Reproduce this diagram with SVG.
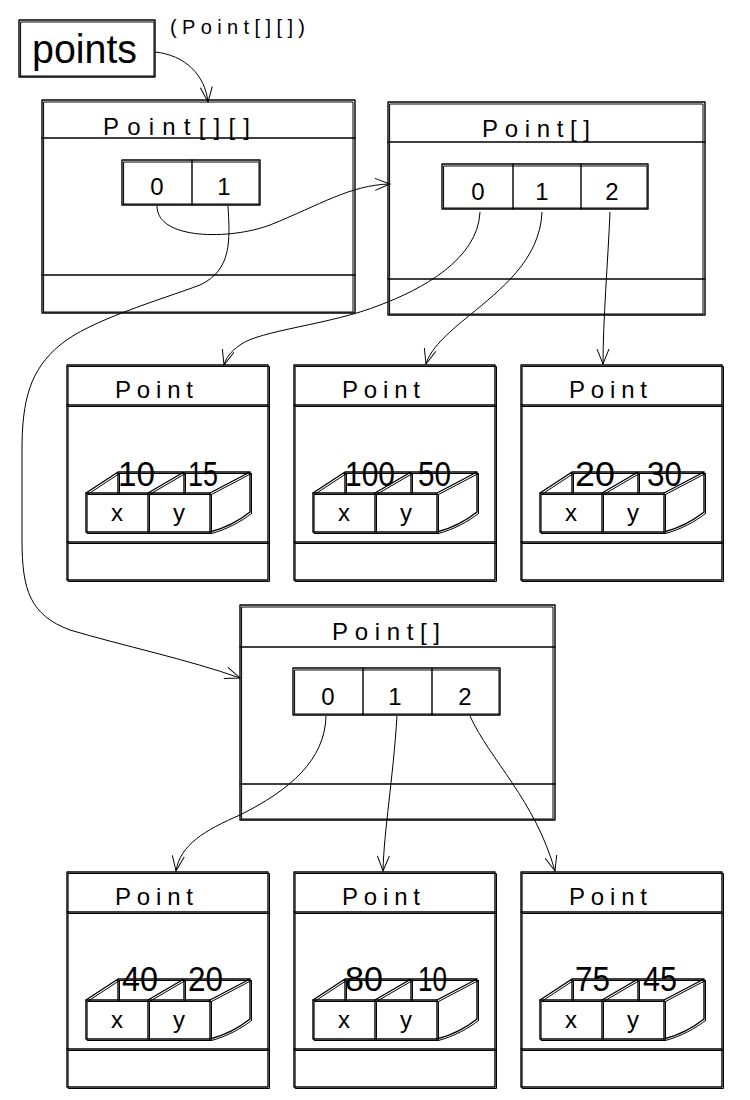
<svg xmlns="http://www.w3.org/2000/svg" xmlns:xlink="http://www.w3.org/1999/xlink" width="750" height="1100" viewBox="0 0 750 1100">
<style>
.s{fill:none;stroke:#000;stroke-width:1.4;stroke-linejoin:round;stroke-linecap:round}
.s2{fill:none;stroke:#000;stroke-width:1;stroke-linejoin:round;stroke-linecap:round}
.c{fill:none;stroke:#000;stroke-width:1}
.t{font-family:"Liberation Sans",Arial,sans-serif;fill:#000}
.title{font-size:24px}
.idx{font-size:24px;text-anchor:middle}
.num{font-size:35px}
.fld{font-size:24px;text-anchor:middle}
</style>
<defs>
<marker id="arr" markerUnits="userSpaceOnUse" markerWidth="20" markerHeight="20" viewBox="-16 -10 20 20" refX="0" refY="0" orient="auto" overflow="visible">
<path d="M-15,-6 L0,0 L-15,6" fill="none" stroke="#000" stroke-width="1"/>
</marker>
<g id="pshape">
<rect x="0" y="0" width="201" height="215"/>
<path d="M0,40 H201 M0,177 H201"/>
<rect x="19" y="128" width="124" height="39"/>
<path d="M81,128 V167 M19,128 L51,107 M51,107 H183 M81,128 L117,107 M143,128 L183,107 M183,107 V147 M143,167 C158,163 173,155 183,147 M51,107 V128 M117,107 V128"/>
</g>
</defs>

<g id="connectors">
<path class="c" d="M155,52 C185,55 205,75 208,102" marker-end="url(#arr)"/>
<path class="c" d="M157,206 C157,240 230,240 270,225 C320,205 350,185 390,184" marker-end="url(#arr)"/>
<path class="c" d="M228,206 C230,240 232,270 200,285 C160,300 90,320 60,345 C30,370 22,400 22,450 L22,540 C22,590 30,615 70,630 C120,645 190,660 240,678" marker-end="url(#arr)"/>
<path class="c" d="M480,212 C478,260 420,290 380,305 C330,325 260,330 240,345 C230,352 226,358 224,365" marker-end="url(#arr)"/>
<path class="c" d="M542,212 C540,260 500,290 470,315 C445,335 430,350 426,364" marker-end="url(#arr)"/>
<path class="c" d="M610,212 C608,260 603,320 603,364" marker-end="url(#arr)"/>
<path class="c" d="M326,716 C325,760 290,790 240,815 C205,830 180,845 176,871" marker-end="url(#arr)"/>
<path class="c" d="M397,716 C393,780 384,830 383,871" marker-end="url(#arr)"/>
<path class="c" d="M470,716 C490,760 535,800 555,871" marker-end="url(#arr)"/>
</g>

<g id="points-var">
<rect class="s" x="19" y="20" width="136" height="57"/>
<rect class="s2" x="21" y="22" width="133" height="54"/>
<text class="t" x="32" y="63" font-size="40" textLength="105" lengthAdjust="spacingAndGlyphs">points</text>
<text class="t" x="170" y="34" font-size="20" textLength="135" lengthAdjust="spacing">(Point[][])</text>
</g>

<g id="arr2d">
<rect class="s" x="42" y="100" width="313" height="213"/>
<rect class="s2" x="44" y="102" width="309" height="210"/>
<path class="s" d="M42,138 H355 M42,275 H355"/>
<rect class="s" x="122" y="160" width="138" height="45"/>
<rect class="s2" x="124" y="162" width="135" height="42"/>
<path class="s" d="M192,160 V205"/>
<text class="t title" x="103" y="135" textLength="147" lengthAdjust="spacing">Point[][]</text>
<text class="t idx" x="157" y="195">0</text>
<text class="t idx" x="224" y="195">1</text>
</g>

<g id="arr1">
<rect class="s" x="388" y="102" width="317" height="213"/>
<rect class="s2" x="390" y="104" width="313" height="210"/>
<path class="s" d="M388,142 H705 M388,279 H705"/>
<rect class="s" x="442" y="164" width="206" height="45"/>
<rect class="s2" x="444" y="166" width="203" height="42"/>
<path class="s" d="M513,164 V209 M581,164 V209"/>
<text class="t title" x="482" y="137" textLength="108" lengthAdjust="spacing">Point[]</text>
<text class="t idx" x="478" y="200">0</text>
<text class="t idx" x="542" y="200">1</text>
<text class="t idx" x="612" y="200">2</text>
</g>

<g id="arr2">
<rect class="s" x="240" y="605" width="315" height="215"/>
<rect class="s2" x="242" y="607" width="311" height="212"/>
<path class="s" d="M240,647 H555 M240,784 H555"/>
<rect class="s" x="293" y="668" width="207" height="47"/>
<rect class="s2" x="295" y="670" width="204" height="44"/>
<path class="s" d="M363,668 V715 M432,668 V715"/>
<text class="t title" x="332" y="640" textLength="108" lengthAdjust="spacing">Point[]</text>
<text class="t idx" x="328" y="705">0</text>
<text class="t idx" x="395" y="705">1</text>
<text class="t idx" x="465" y="705">2</text>
</g>

<g id="p00">
<use xlink:href="#pshape" class="s" transform="translate(67,365)"/>
<use xlink:href="#pshape" class="s2" transform="translate(68.5,366.5)"/>
<text class="t title" x="115" y="398" textLength="78" lengthAdjust="spacing">Point</text>
<text class="t num" x="118" y="486" textLength="37" lengthAdjust="spacingAndGlyphs">10</text>
<text class="t num" x="188" y="486" textLength="30" lengthAdjust="spacingAndGlyphs">15</text>
<text class="t fld" x="117" y="521">x</text>
<text class="t fld" x="179" y="521">y</text>
</g>
<g id="p01">
<use xlink:href="#pshape" class="s" transform="translate(294,365)"/>
<use xlink:href="#pshape" class="s2" transform="translate(295.5,366.5)"/>
<text class="t title" x="342" y="398" textLength="78" lengthAdjust="spacing">Point</text>
<text class="t num" x="345" y="486" textLength="50" lengthAdjust="spacingAndGlyphs">100</text>
<text class="t num" x="418" y="486" textLength="33" lengthAdjust="spacingAndGlyphs">50</text>
<text class="t fld" x="344" y="521">x</text>
<text class="t fld" x="406" y="521">y</text>
</g>
<g id="p02">
<use xlink:href="#pshape" class="s" transform="translate(521,365)"/>
<use xlink:href="#pshape" class="s2" transform="translate(522.5,366.5)"/>
<text class="t title" x="569" y="398" textLength="78" lengthAdjust="spacing">Point</text>
<text class="t num" x="575" y="486" textLength="40" lengthAdjust="spacingAndGlyphs">20</text>
<text class="t num" x="647" y="486" textLength="35" lengthAdjust="spacingAndGlyphs">30</text>
<text class="t fld" x="571" y="521">x</text>
<text class="t fld" x="633" y="521">y</text>
</g>
<g id="p10">
<use xlink:href="#pshape" class="s" transform="translate(67,872)"/>
<use xlink:href="#pshape" class="s2" transform="translate(68.5,873.5)"/>
<text class="t title" x="115" y="905" textLength="78" lengthAdjust="spacing">Point</text>
<text class="t num" x="122" y="991" textLength="36" lengthAdjust="spacingAndGlyphs">40</text>
<text class="t num" x="188" y="991" textLength="35" lengthAdjust="spacingAndGlyphs">20</text>
<text class="t fld" x="117" y="1028">x</text>
<text class="t fld" x="179" y="1028">y</text>
</g>
<g id="p11">
<use xlink:href="#pshape" class="s" transform="translate(294,872)"/>
<use xlink:href="#pshape" class="s2" transform="translate(295.5,873.5)"/>
<text class="t title" x="342" y="905" textLength="78" lengthAdjust="spacing">Point</text>
<text class="t num" x="345" y="991" textLength="38" lengthAdjust="spacingAndGlyphs">80</text>
<text class="t num" x="418" y="991" textLength="29" lengthAdjust="spacingAndGlyphs">10</text>
<text class="t fld" x="344" y="1028">x</text>
<text class="t fld" x="406" y="1028">y</text>
</g>
<g id="p12">
<use xlink:href="#pshape" class="s" transform="translate(521,872)"/>
<use xlink:href="#pshape" class="s2" transform="translate(522.5,873.5)"/>
<text class="t title" x="569" y="905" textLength="78" lengthAdjust="spacing">Point</text>
<text class="t num" x="575" y="991" textLength="35" lengthAdjust="spacingAndGlyphs">75</text>
<text class="t num" x="643" y="991" textLength="34" lengthAdjust="spacingAndGlyphs">45</text>
<text class="t fld" x="571" y="1028">x</text>
<text class="t fld" x="633" y="1028">y</text>
</g>
</svg>
